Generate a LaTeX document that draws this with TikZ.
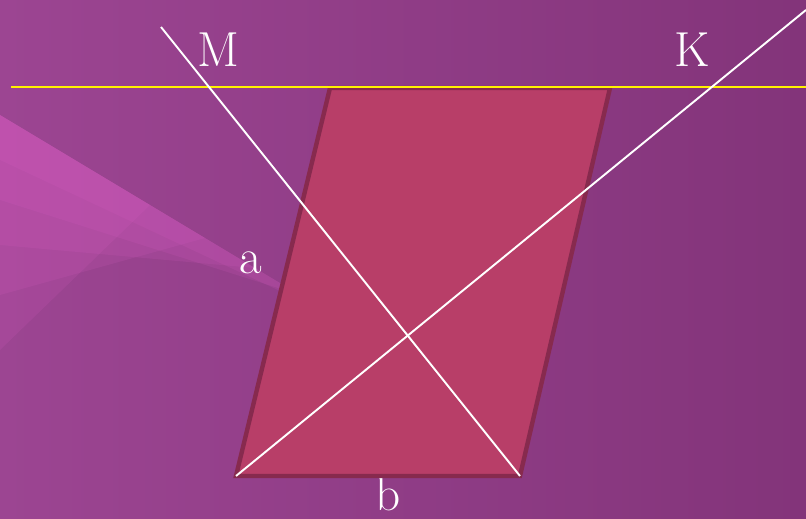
\documentclass[tikz,border=0pt]{standalone}
\usepackage{tikz}
\definecolor{bgpurple}{HTML}{83347A}
\definecolor{bgleft}{HTML}{9C4592}
\definecolor{glowpink}{HTML}{E462CC}
\definecolor{rhombfill}{HTML}{B83E68}
\definecolor{rhombedge}{HTML}{872A4E}
\definecolor{axisyellow}{HTML}{FFF200}
\begin{document}
\begin{tikzpicture}[x=0.02cm, y=-0.02cm, every node/.style={text=white, inner sep=1pt, font=\fontsize{28}{30}\selectfont}]

  % Background with glow
\useasboundingbox (0,0) rectangle (806,519); \shade[left color=bgleft, right color=bgpurple] (0,0) rectangle (806,519);
\foreach \h/\l in {45/340, 85/300, 130/255, 180/205, 235/150} \fill[glowpink, opacity=0.13] (0,115) -- (\l,115+0.6*\l) -- (0,115+\h) -- cycle;

  % Define coordinates for nodes
\coordinate (A) at (236,476); \coordinate (B) at (520,476); \coordinate (C) at (610,88); \coordinate (D) at (330,88); \coordinate (Ystart) at (11,87); \coordinate (Yend) at (806,87); \coordinate (Mend) at (161,27); \coordinate (Kend) at (806,10); \node (M) at (218,50) {M}; \node (K) at (692,50) {K}; \node (a) at (251,263) {a}; \node (b) at (388,494) {b};

  % Draw the figure
\filldraw[fill=rhombfill, draw=rhombedge, line width=2.5pt, line join=miter] (A) -- (B) -- (C) -- (D) -- cycle; \draw[axisyellow, line width=1.2pt] (Ystart) -- (Yend); \draw[white, line width=1.1pt] (Mend) -- (B); \draw[white, line width=1.1pt] (A) -- (Kend);

\end{tikzpicture}
\end{document}
